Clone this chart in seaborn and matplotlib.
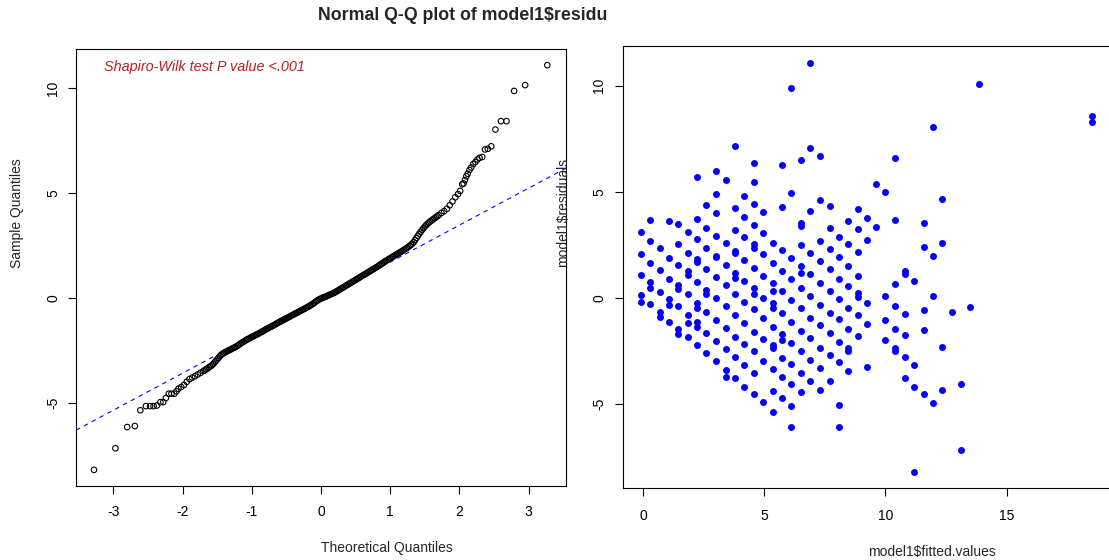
import matplotlib
matplotlib.use("Agg")
import matplotlib.pyplot as plt
import seaborn as sns
import pandas as pd
from matplotlib.transforms import Bbox

# ---------------- data ----------------
# Normal Q-Q plot: theoretical vs sample quantiles
qq_theoretical = [
    -3.28, -2.97, -2.80, -2.69, -2.61, -2.53, -2.47, -2.42, -2.37, -2.32, -2.28,
    -2.24, -2.20, -2.16, -2.12, -2.09,
    -2.06, -2.02, -1.98, -1.94, -1.90, -1.86, -1.82, -1.78, -1.74,
    -1.70, -1.68, -1.66, -1.64, -1.62, -1.60, -1.58, -1.56, -1.54, -1.52, -1.50,
    -1.48, -1.46, -1.44, -1.42, -1.40, -1.38, -1.36, -1.34, -1.32, -1.30, -1.28,
    -1.26, -1.24, -1.22, -1.20, -1.18, -1.16, -1.14, -1.12, -1.10, -1.08, -1.06,
    -1.04, -1.02, -1.00, -0.98, -0.96, -0.94, -0.92, -0.90, -0.88, -0.86, -0.84,
    -0.82, -0.80, -0.78, -0.76, -0.74, -0.72, -0.70, -0.68, -0.66, -0.64, -0.62,
    -0.60, -0.58, -0.56, -0.54, -0.52, -0.50, -0.48, -0.46, -0.44, -0.42, -0.40,
    -0.38, -0.36, -0.34, -0.32, -0.30, -0.28, -0.26, -0.24, -0.22, -0.20, -0.18,
    -0.16, -0.14, -0.12, -0.10, -0.08, -0.06, -0.04, -0.02, 0.00, 0.02, 0.04,
    0.06, 0.08, 0.10, 0.12, 0.14, 0.16, 0.18, 0.20, 0.22, 0.24, 0.26, 0.28, 0.30,
    0.32, 0.34, 0.36, 0.38, 0.40, 0.42, 0.44, 0.46, 0.48, 0.50, 0.52, 0.54, 0.56,
    0.58, 0.60, 0.62, 0.64, 0.66, 0.68, 0.70, 0.72, 0.74, 0.76, 0.78, 0.80, 0.82,
    0.84, 0.86, 0.88, 0.90, 0.92, 0.94, 0.96, 0.98, 1.00, 1.02, 1.04, 1.06, 1.08,
    1.10, 1.12, 1.14, 1.16, 1.18, 1.20, 1.22, 1.24, 1.26, 1.28, 1.30, 1.32, 1.34,
    1.36, 1.38, 1.40, 1.42, 1.44, 1.46, 1.48, 1.50, 1.52, 1.54, 1.56, 1.58, 1.60,
    1.62, 1.64, 1.66, 1.68, 1.70,
    1.74, 1.78, 1.82, 1.86, 1.90, 1.94, 1.98,
    2.01, 2.04, 2.06, 2.08, 2.10, 2.12, 2.145, 2.17, 2.20, 2.23, 2.26, 2.29, 2.33,
    2.37, 2.41, 2.46, 2.52, 2.60, 2.68, 2.79, 2.95, 3.27,
]
qq_sample = [
    -8.20, -7.17, -6.16, -6.11, -5.36, -5.16, -5.16, -5.16, -5.13, -4.97, -4.97,
    -4.77, -4.57, -4.57, -4.57, -4.45,
    -4.33, -4.25, -4.15, -4.00, -3.87, -3.80, -3.73, -3.65, -3.57,
    -3.49, -3.45, -3.40, -3.37, -3.31, -3.27, -3.22, -3.16, -3.08, -3.01, -2.93,
    -2.86, -2.78, -2.71, -2.66, -2.62, -2.58, -2.55, -2.51, -2.48, -2.45, -2.41,
    -2.38, -2.35, -2.31, -2.26, -2.22, -2.17, -2.13, -2.09, -2.05, -2.01, -1.97,
    -1.94, -1.90, -1.86, -1.83, -1.80, -1.76, -1.73, -1.70, -1.66, -1.62, -1.59,
    -1.55, -1.51, -1.47, -1.44, -1.40, -1.37, -1.33, -1.30, -1.26, -1.22, -1.18,
    -1.15, -1.11, -1.08, -1.04, -1.01, -0.97, -0.94, -0.90, -0.87, -0.83, -0.80,
    -0.76, -0.73, -0.69, -0.66, -0.62, -0.59, -0.55, -0.52, -0.48, -0.45, -0.41,
    -0.37, -0.33, -0.29, -0.24, -0.19, -0.14, -0.10, -0.06, -0.03, 0.00, 0.03,
    0.05, 0.08, 0.11, 0.14, 0.17, 0.20, 0.23, 0.26, 0.30, 0.34, 0.38, 0.42, 0.46,
    0.50, 0.54, 0.58, 0.62, 0.66, 0.70, 0.74, 0.78, 0.82, 0.86, 0.90, 0.94, 0.98,
    1.02, 1.06, 1.10, 1.14, 1.18, 1.22, 1.26, 1.30, 1.34, 1.38, 1.42, 1.46, 1.50,
    1.55, 1.59, 1.64, 1.68, 1.73, 1.77, 1.81, 1.85, 1.89, 1.93, 1.97, 2.01, 2.05,
    2.09, 2.13, 2.17, 2.21, 2.25, 2.30, 2.34, 2.38, 2.43, 2.48, 2.53, 2.59, 2.66,
    2.76, 2.86, 2.96, 3.06, 3.15, 3.24, 3.32, 3.40, 3.47, 3.54, 3.60, 3.65, 3.70,
    3.75, 3.80, 3.85, 3.90, 3.95,
    4.05, 4.14, 4.25, 4.42, 4.60, 4.80, 4.95,
    5.10, 5.42, 5.46, 5.62, 5.80, 5.92, 6.10, 6.22, 6.38, 6.48, 6.60, 6.68, 6.72,
    7.08, 7.11, 7.23, 8.03, 8.43, 8.43, 9.87, 10.15, 11.10,
]
qqline_intercept = -0.06
qqline_slope = 1.765
shapiro_text = "Shapiro-Wilk test P value <.001"
title_text = "Normal Q-Q plot of model1$residuals"

# Residuals vs fitted: one fitted value per column of points
fitted_columns = [
    -0.09, 0.28, 0.70, 1.07, 1.44, 1.85, 2.23, 2.60, 3.00, 3.43, 3.80, 4.18,
    4.58, 4.95, 5.35, 5.74, 6.11, 6.51, 6.89, 7.29, 7.71, 8.09, 8.46, 8.85,
    9.24, 9.63, 10.00, 10.40, 10.79, 11.18, 11.60, 11.97, 12.34, 12.75, 13.12,
    13.51, 13.87, 18.53,
]
residual_columns = [
    [3.10, 2.08, 1.07, 0.15, -0.20],
    [3.69, 2.69, 1.65, 0.74, 0.46, -0.28],
    [2.34, 1.32, 0.30, -0.64, -0.88],
    [3.61, 1.90, 0.91, -0.04, -0.32, -1.11],
    [3.49, 2.53, 1.56, 0.62, 0.43, -0.37, -1.47, -1.71],
    [3.13, 2.14, 1.25, 1.09, 0.18, -0.80, -1.16, -1.82],
    [5.70, 3.74, 2.77, 1.84, 1.68, 0.74, -0.22, -0.48, -1.11, -1.38, -2.21],
    [4.40, 3.32, 2.37, 1.35, 0.38, 0.19, -0.64, -1.66, -2.60],
    [5.98, 4.92, 3.99, 2.91, 2.00, 1.92, 0.99, -0.01, -1.03, -2.02, -2.96],
    [5.58, 2.58, 1.56, 0.60, -0.40, -1.39, -2.41, -3.39, -3.70],
    [7.16, 4.26, 3.19, 2.20, 2.12, 1.20, 0.96, 0.18, -0.80, -1.82, -2.76, -3.78],
    [4.79, 3.80, 2.86, 1.79, 0.82, -0.17, -1.16, -2.16, -3.15, -4.17],
    [6.35, 5.45, 4.45, 3.44, 2.53, 2.37, 1.43, 0.46, 0.18, -0.53, -1.58, -2.52,
     -3.54, -4.52],
    [4.07, 3.08, 2.06, 1.05, 0.02, -0.95, -1.94, -2.96, -4.92],
    [2.61, 1.64, 0.70, 0.35, -0.22, -0.48, -1.35, -2.21, -2.37, -3.34, -4.36, -5.38],
    [6.27, 4.30, 2.26, 1.28, 0.33, -0.72, -1.69, -1.97, -2.84, -3.70, -4.72],
    [9.88, 4.93, 1.90, 0.88, -0.09, -1.11, -2.10, -3.12, -4.06, -5.08, -6.10],
    [6.50, 3.55, 3.39, 2.50, 1.53, 1.17, 0.46, -0.48, -1.55, -2.52, -3.51, -4.45],
    [11.05, 7.08, 4.10, 2.11, 1.12, 0.11, -0.92, -1.89, -2.91, -3.90],
    [6.67, 4.62, 2.69, 1.72, 0.70, -0.32, -1.27, -2.37, -3.31, -4.33],
    [4.35, 3.32, 2.30, 1.35, 0.35, -0.69, -1.66, -2.68, -3.90],
    [2.89, 1.92, 0.91, -0.06, -1.00, -2.05, -3.02, -5.06, -6.10],
    [3.63, 2.53, 1.51, 0.57, -0.45, -1.47, -2.36, -2.52, -3.43],
    [4.18, 3.24, 2.17, 1.04, 0.22, 0.07, -0.80, -1.78],
    [3.79, 2.74, -0.25, -1.24, -3.23],
    [5.37, 3.35],
    [5.01, 0.10, -1.03, -1.97],
    [6.58, 3.66, 0.65, -0.40, -1.44, -2.36, -2.52],
    [1.29, 1.12, -0.76, -1.75, -2.77, -3.75],
    [0.82, -3.15, -4.17, -8.20],
    [3.54, 2.39, -0.56, -1.53, -4.50],
    [8.06, 2.00, 0.10, -4.94],
    [4.65, 2.61, -2.30, -4.33],
    [-0.67],
    [-4.04, -7.17],
    [-0.44],
    [10.06],
    [8.57, 8.29],
]

# ---------------- style ----------------
sns.set_style("white")
plt.rcParams["font.family"] = ["Liberation Sans", "DejaVu Sans"]
plt.rcParams["axes.unicode_minus"] = False
plt.rcParams["font.size"] = 10

W, H = 1109, 560
fig = plt.figure(figsize=(W / 100, H / 100), dpi=100)


def px_axes(x0, y0, x1, y1):
    return fig.add_axes([x0 / W, 1 - y1 / H, (x1 - x0) / W, (y1 - y0) / H])


ax1 = px_axes(76, 49, 566, 486)
ax2 = px_axes(623, 46, 1110, 488)

# ---------------- left: Q-Q plot ----------------
qq_df = pd.DataFrame({"theo": qq_theoretical, "sample": qq_sample})
sns.scatterplot(data=qq_df, x="theo", y="sample", ax=ax1, s=16,
                facecolors="none", edgecolor="black", linewidth=0.8, zorder=3)
ax1.axline((0, qqline_intercept), slope=qqline_slope, color="blue", lw=0.8,
           linestyle=(0, (4, 4)), zorder=2)
ax1.set_xlim(-3.54, 3.54)
ax1.set_ylim(-8.97, 11.87)
ax1.set_xticks([-3, -2, -1, 0, 1, 2, 3])
ax1.set_yticks([-5, 0, 5, 10])
ax1.text((104 - 76) / 490, (486 - 66.7) / 437, shapiro_text, transform=ax1.transAxes,
         ha="left", va="center", fontsize=10.4, style="italic", color="#B22222")

# ---------------- right: residuals vs fitted ----------------
rows = [(f, r) for f, rs in zip(fitted_columns, residual_columns) for r in rs]
res_df = pd.DataFrame(rows, columns=["fitted", "resid"])
sns.scatterplot(data=res_df, x="fitted", y="resid", ax=ax2, s=25, color="#0000FF",
                linewidth=0, zorder=3)
ax2.set_xlim(-0.835, 19.27)
ax2.set_ylim(-8.95, 11.87)
ax2.set_xticks([0, 5, 10, 15])
ax2.set_yticks([-5, 0, 5, 10])

for ax, xpad, ypad in [(ax1, 7.9, 5.5), (ax2, 9.1, 6.3)]:
    for sp in ax.spines.values():
        sp.set_visible(True)
        sp.set_color("black")
        sp.set_linewidth(0.8)
    ax.tick_params(axis="both", direction="out", length=5.8, width=0.8,
                   color="black", labelsize=10, labelcolor="black")
    ax.tick_params(axis="x", pad=xpad, bottom=True)
    ax.tick_params(axis="y", pad=ypad, left=True, labelrotation=90)
    for lab in ax.get_yticklabels():
        lab.set_va("center")

ax1.set_xlabel("Theoretical Quantiles", fontsize=10, va="center")
ax1.set_ylabel("Sample Quantiles", fontsize=10, va="center")
ax1.xaxis.set_label_coords((386.5 - 76) / 490, -(548 - 486) / 437)
ax1.yaxis.set_label_coords((17 - 76) / 490, (486 - 213) / 437)

ax2.set_xlabel("model1$fitted.values", fontsize=10, va="center")
ax2.set_ylabel("model1$residuals", fontsize=10, va="center")
ax2.xaxis.set_label_coords((931.7 - 623) / 487, -(551.7 - 488) / 442)
ax2.yaxis.set_label_coords((562.7 - 623) / 487, (488 - 212) / 442)

t = fig.text(318 / W, 1 - 15.5 / H, title_text, ha="left", va="center",
             fontsize=12.8, fontweight="bold")
t.set_clip_on(True)
t.set_clip_box(Bbox.from_extents(0, 0, 607, H))

fig.savefig("out.png", dpi=100)
